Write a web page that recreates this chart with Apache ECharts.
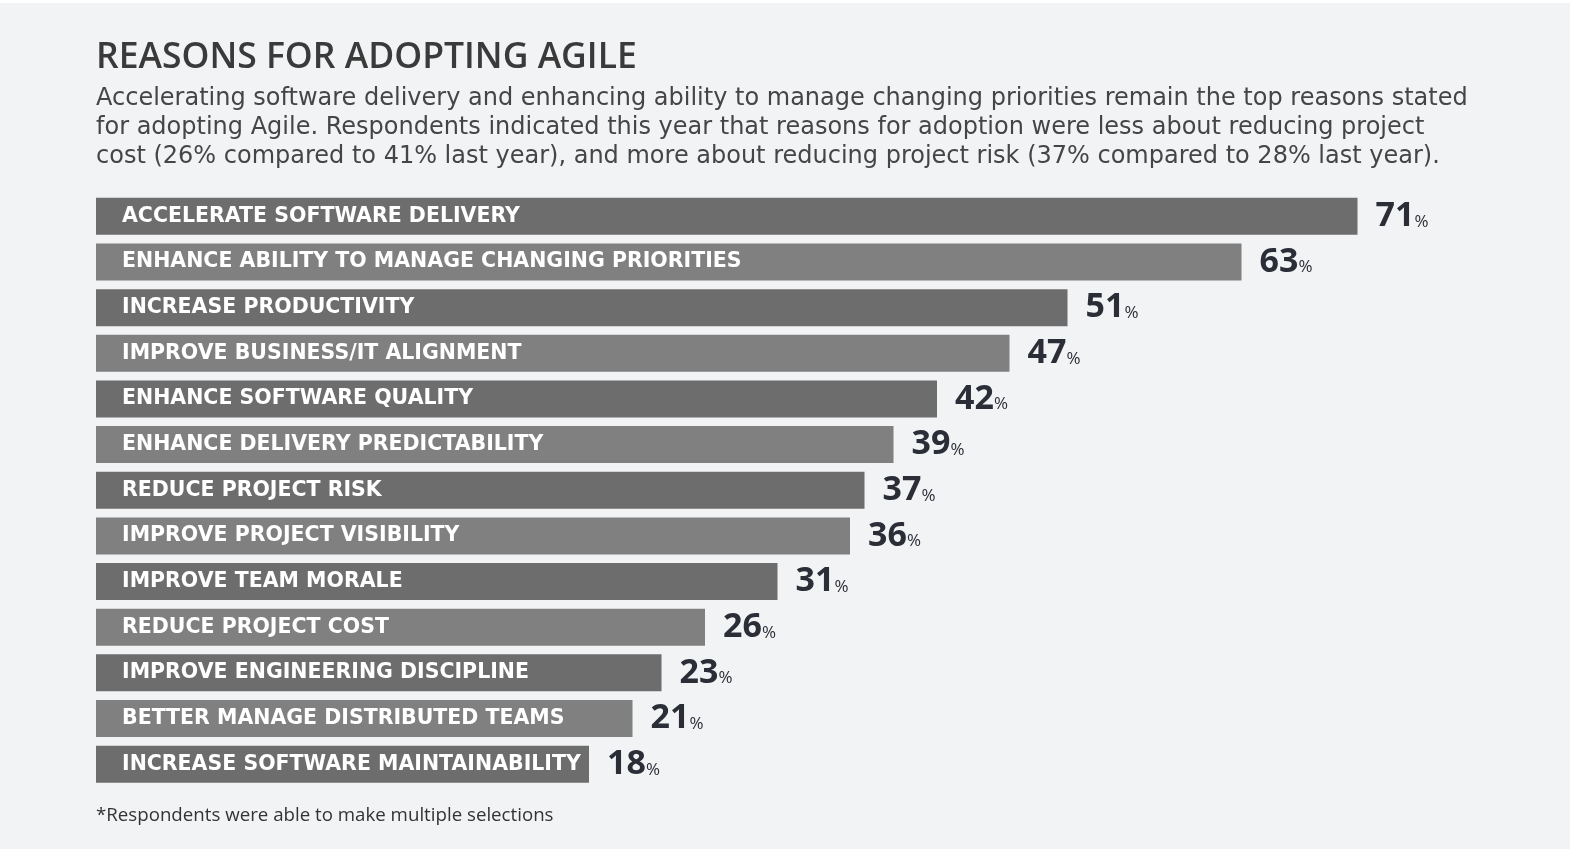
<!DOCTYPE html>
<html><head><meta charset="utf-8">
<script src="https://cdn.jsdelivr.net/npm/echarts@6/dist/echarts.min.js"></script>
<style>
html,body{margin:0;padding:0;background:#ffffff;}
#c{position:absolute;left:0;top:3px;width:1570px;height:846px;background:#f2f3f5;}
</style>
</head><body><div id="c"></div>
<script>
// ---- data ----
const titleText = 'REASONS FOR ADOPTING AGILE';
const subtitleLines = [
  'Accelerating software delivery and enhancing ability to manage changing priorities remain the top reasons stated',
  'for adopting Agile. Respondents indicated this year that reasons for adoption were less about reducing project',
  'cost (26% compared to 41% last year), and more about reducing project risk (37% compared to 28% last year).'
];
const footnote = '*Respondents were able to make multiple selections';
const categories = [
  'ACCELERATE SOFTWARE DELIVERY',
  'ENHANCE ABILITY TO MANAGE CHANGING PRIORITIES',
  'INCREASE PRODUCTIVITY',
  'IMPROVE BUSINESS/IT ALIGNMENT',
  'ENHANCE SOFTWARE QUALITY',
  'ENHANCE DELIVERY PREDICTABILITY',
  'REDUCE PROJECT RISK',
  'IMPROVE PROJECT VISIBILITY',
  'IMPROVE TEAM MORALE',
  'REDUCE PROJECT COST',
  'IMPROVE ENGINEERING DISCIPLINE',
  'BETTER MANAGE DISTRIBUTED TEAMS',
  'INCREASE SOFTWARE MAINTAINABILITY'
];
const percentages = [71, 63, 51, 47, 42, 39, 37, 36, 31, 26, 23, 21, 18];
// constant lead-in segment of every bar that holds the category name
const labelBand = 16;

// ---- styles ----
const barColors = ['#6d6d6d', '#808080'];
const FONT = '"Open Sans", "DejaVu Sans", sans-serif';
const WIDE = '"DejaVu Sans", "Open Sans", sans-serif';
const colorByRow = p => barColors[p.dataIndex % 2];

const chart = echarts.init(document.getElementById('c'), null, {renderer: 'canvas'});
chart.setOption({
  backgroundColor: '#f2f3f5',
  animation: false,
  title: [
    {
      text: titleText, left: 91, top: 32,
      textStyle: {fontFamily: FONT, fontSize: 35.5, fontWeight: 600, color: '#3a3a3a'}
    },
    {
      text: subtitleLines.join('\n'), left: 91, top: 76,
      textStyle: {fontFamily: WIDE, fontSize: 24, fontWeight: 400, color: '#454545', lineHeight: 29}
    },
    {
      text: footnote, left: 91, top: 798,
      textStyle: {fontFamily: FONT, fontSize: 18.7, fontWeight: 400, color: '#333333'}
    }
  ],
  grid: {left: 96, top: 190.5, width: 1450, bottom: 62, containLabel: false},
  xAxis: {type: 'value', min: 0, max: 100, show: false},
  yAxis: {type: 'category', data: categories, inverse: true, show: false},
  series: [
    {
      type: 'bar', stack: 'bar', barWidth: 37, silent: true,
      data: categories.map(() => labelBand),
      itemStyle: {color: colorByRow},
      label: {
        show: true, position: 'insideLeft', distance: 26,
        formatter: p => categories[p.dataIndex],
        fontFamily: WIDE, fontSize: 20.5, fontWeight: 'bold', color: '#ffffff'
      }
    },
    {
      type: 'bar', stack: 'bar', barWidth: 37, silent: true,
      data: percentages,
      itemStyle: {color: colorByRow},
      label: {
        show: true, position: 'right', distance: 18,
        formatter: p => '{v|' + p.value + '}{p|%}',
        rich: {
          v: {fontFamily: FONT, fontSize: 34, fontWeight: 700, color: '#2b2e36'},
          p: {fontFamily: FONT, fontSize: 17, fontWeight: 400, color: '#2b2e36', verticalAlign: 'bottom', padding: [0, 0, 3, 0]}
        }
      }
    }
  ]
});
</script>
</body></html>
